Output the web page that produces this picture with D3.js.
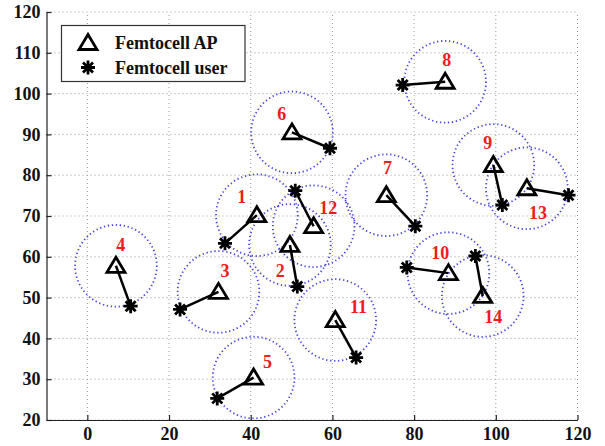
<!DOCTYPE html>
<html>
<head>
<meta charset="utf-8">
<script src="https://cdn.jsdelivr.net/npm/d3@7"></script>
<style>
  body { margin: 0; background: #fff; }
  svg text { font-family: "Liberation Serif", "Times New Roman", serif !important; font-weight: bold; }
</style>
</head>
<body>
<script>
// femtocell APs and their users
const cellIds = [1, 2, 3, 4, 5, 6, 7, 8, 9, 10, 11, 12, 13, 14];
const apX   = [41.5, 49.6, 32.1, 7.0, 40.7, 50.1, 73.2, 87.6, 99.4, 88.4, 60.7, 55.4, 107.6, 96.8];
const apY   = [70.2, 62.9, 51.4, 57.8, 30.4, 90.5, 75.1, 102.9, 82.5, 56.0, 44.5, 67.5, 76.8, 50.4];
const userX = [33.7, 51.4, 22.7, 10.6, 31.8, 59.4, 80.3, 77.2, 101.6, 78.2, 65.8, 50.9, 117.8, 95.0];
const userY = [63.3, 52.7, 47.1, 47.9, 25.3, 86.6, 67.5, 102.1, 72.7, 57.4, 35.3, 76.2, 75.1, 60.2];
const labelX = [37.8, 47.2, 33.7, 8.2, 44.1, 47.6, 73.5, 88.0, 98.0, 86.4, 66.4, 59.0, 110.3, 99.4];
const labelY = [74.7, 56.4, 56.6, 62.9, 34.1, 95.0, 81.7, 108.2, 88.0, 60.9, 47.8, 71.9, 70.8, 45.3];
const coverage = 10;
const xTicks = [0, 20, 40, 60, 80, 100, 120];
const yTicks = [20, 30, 40, 50, 60, 70, 80, 90, 100, 110, 120];
const legendLabels = ['Femtocell AP', 'Femtocell user'];

const W = 605, H = 446;
const margin = {left: 46.5, right: 27.5, top: 12, bottom: 26};

const svg = d3.select('body').append('svg')
    .attr('width', W)
    .attr('height', H);

const x = d3.scaleLinear().domain([-10, 120]).range([margin.left, W - margin.right]);
const y = d3.scaleLinear().domain([20, 120]).range([H - margin.bottom, margin.top]);

// grid
const grid = svg.append('g')
    .attr('stroke', '#9a9a9a')
    .attr('stroke-width', 1)
    .attr('stroke-dasharray', '1,3');
grid.selectAll('.gx').data(xTicks).enter().append('line')
    .attr('x1', d => x(d)).attr('x2', d => x(d))
    .attr('y1', y(20)).attr('y2', y(120));
grid.selectAll('.gy').data(yTicks).enter().append('line')
    .attr('x1', x(-10)).attr('x2', x(120))
    .attr('y1', d => y(d)).attr('y2', d => y(d));

// axes, ticks pointing inward
const xAxis = svg.append('g')
    .attr('transform', `translate(0,${y(20)})`)
    .call(d3.axisBottom(x).tickValues(xTicks).tickSizeInner(-5).tickSizeOuter(0).tickPadding(7));
const yAxis = svg.append('g')
    .attr('transform', `translate(${x(-10)},0)`)
    .call(d3.axisLeft(y).tickValues(yTicks).tickSizeInner(-5).tickSizeOuter(0).tickPadding(6));
[xAxis, yAxis].forEach(a => {
    a.attr('font-family', null).attr('font-size', null);
    a.select('.domain').attr('stroke', '#222').attr('stroke-width', 1.2);
    a.selectAll('.tick line').attr('stroke', '#222').attr('stroke-width', 1.2);
    a.selectAll('.tick text')
        .attr('fill', '#111')
        .style('font-size', '18px');
});

const cells = cellIds.map((id, i) => ({
    id, ax: apX[i], ay: apY[i], ux: userX[i], uy: userY[i], lx: labelX[i], ly: labelY[i]
}));

// coverage circles
const rPx = x(coverage) - x(0);
svg.append('g').selectAll('circle')
    .data(cells)
    .enter().append('circle')
    .attr('cx', d => x(d.ax))
    .attr('cy', d => y(d.ay))
    .attr('r', rPx)
    .attr('fill', 'none')
    .attr('stroke', '#4646e0')
    .attr('stroke-width', 1.8)
    .attr('stroke-dasharray', '1.3,2.7');

// AP-user links
svg.append('g').selectAll('line')
    .data(cells)
    .enter().append('line')
    .attr('x1', d => x(d.ax)).attr('y1', d => y(d.ay))
    .attr('x2', d => x(d.ux)).attr('y2', d => y(d.uy))
    .attr('stroke', '#000')
    .attr('stroke-width', 2.5);

const triPath = 'M0,-8.5 L9,6.5 L-9,6.5 Z';
const starPath = 'M-7,0 L7,0 M0,-7 L0,7 M-5,-5 L5,5 M-5,5 L5,-5';

function drawTri(g) {
    g.append('path').attr('d', triPath)
        .attr('fill', 'none').attr('stroke', '#000').attr('stroke-width', 2.8)
        .attr('stroke-linejoin', 'miter');
}
function drawStar(g) {
    g.append('path').attr('d', starPath)
        .attr('fill', 'none').attr('stroke', '#000').attr('stroke-width', 2.8);
}

svg.append('g').selectAll('g')
    .data(cells)
    .enter().append('g')
    .attr('transform', d => `translate(${x(d.ax)},${y(d.ay)})`)
    .each(function() { drawTri(d3.select(this)); });

svg.append('g').selectAll('g')
    .data(cells)
    .enter().append('g')
    .attr('transform', d => `translate(${x(d.ux)},${y(d.uy)})`)
    .each(function() { drawStar(d3.select(this)); });

// cell numbers
svg.append('g').selectAll('text')
    .data(cells)
    .enter().append('text')
    .attr('x', d => x(d.lx))
    .attr('y', d => y(d.ly))
    .attr('text-anchor', 'middle')
    .attr('dominant-baseline', 'central')
    .attr('fill', '#ee1c1c')
    .style('font-size', '18px')
    .text(d => d.id);

// legend
const legend = svg.append('g');
legend.append('rect')
    .attr('x', 61.5).attr('y', 25.5)
    .attr('width', 183.5).attr('height', 56)
    .attr('fill', '#fff')
    .attr('stroke', '#333').attr('stroke-width', 1.2);
const rows = legend.selectAll('g.row')
    .data(legendLabels)
    .enter().append('g')
    .attr('class', 'row')
    .attr('transform', (d, i) => `translate(88,${43 + i * 24.5})`);
rows.each(function(d, i) {
    const g = d3.select(this);
    if (i === 0) drawTri(g); else drawStar(g);
    g.append('text')
        .attr('x', 27)
        .attr('dominant-baseline', 'central')
        .attr('fill', '#111')
        .style('font-size', '18px')
        .text(d);
});
</script>
</body>
</html>
